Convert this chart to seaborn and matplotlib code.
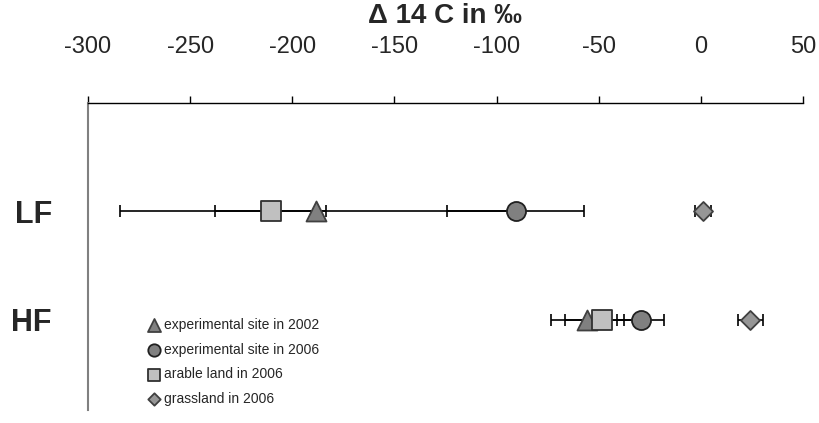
import matplotlib
matplotlib.use("Agg")
import matplotlib.pyplot as plt
import seaborn as sns
import pandas as pd
import numpy as np

# ---- data ----
rows = ["LF", "HF"]
series = ["experimental site in 2002", "experimental site in 2006",
          "arable land in 2006", "grassland in 2006"]
exp2002 = [-188.5, -55.5]
exp2002_err = [96.0, 18.0]
exp2006 = [-90.7, -29.5]
exp2006_err = [33.5, 11.4]
arable2006 = [-210.6, -48.3]
arable2006_err = [27.0, 18.3]
grass2006 = [1.2, 24.2]
grass2006_err = [4.0, 6.2]
xticks = [-300, -250, -200, -150, -100, -50, 0, 50]

values = [exp2002, exp2006, arable2006, grass2006]
errors = [exp2002_err, exp2006_err, arable2006_err, grass2006_err]

sns.set_theme(style="white")
plt.rcParams['font.family'] = ['Liberation Sans', 'DejaVu Sans']

fig = plt.figure(figsize=(8.2, 4.23), dpi=100)
ax = fig.add_axes([88/820, 1-410/423, (803-88)/820, (410-103)/423])

ypos = {"LF": 1, "HF": 2}
styles = [
    dict(marker="^", s=207, color="#808080", edgecolor="#404040"),
    dict(marker="o", s=188, color="#808080", edgecolor="#202020"),
    dict(marker="s", s=207, color="#c0c0c0", edgecolor="#303030"),
    dict(marker="D", s=94, color="#969696", edgecolor="#404040"),
]

# error bars first
for vals, errs in zip(values, errors):
    ax.errorbar(vals, [ypos[r] for r in rows], xerr=errs, fmt="none",
                ecolor="black", elinewidth=1.2, capsize=4.5, capthick=1.2,
                zorder=2)

for name, vals, st in zip(series, values, styles):
    df = pd.DataFrame({"x": vals, "y": [ypos[r] for r in rows]})
    sns.scatterplot(data=df, x="x", y="y", ax=ax, marker=st["marker"],
                    s=st["s"], color=st["color"], edgecolor=st["edgecolor"],
                    linewidth=1.3, label=name, zorder=3)

ax.set_xlim(-300, 50)
ax.set_ylim(2.826, 0.009)
ax.set_xticks(xticks)
ax.set_xticklabels([str(t) for t in xticks])
ax.xaxis.tick_top()
ax.tick_params(axis="x", direction="out", length=5, width=1, color="black",
               pad=27.5, labelsize=17, top=True, bottom=False)
ax.set_yticks([1, 2])
ax.set_yticklabels(rows, fontsize=22, fontweight="bold")
ax.tick_params(axis="y", length=0, pad=26)
ax.set_xlabel("")
ax.set_ylabel("")

for side in ["right", "bottom"]:
    ax.spines[side].set_visible(False)
ax.spines["top"].set_color("black")
ax.spines["top"].set_linewidth(1)
ax.spines["left"].set_color("#808080")
ax.spines["left"].set_linewidth(1.5)

fig.text(445/820, 1-16/423, "Δ 14 C in ‰", ha="center", va="center",
         fontsize=20, fontweight="bold")

leg = ax.legend(loc="upper left", bbox_to_anchor=(138/820, 1-311/423),
                bbox_transform=fig.transFigure, frameon=False, fontsize=10,
                markerscale=0.65, handletextpad=0.1, labelspacing=0.77,
                borderpad=0, handlelength=1.3)

fig.savefig("out.png", dpi=100)
